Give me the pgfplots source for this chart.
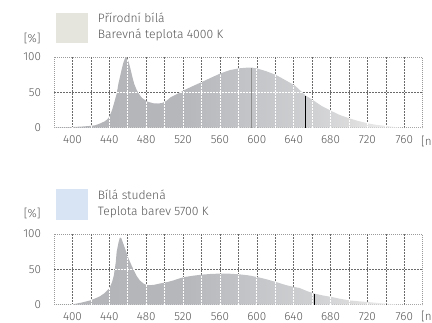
\documentclass[border=0pt]{standalone}
\usepackage{fontspec}
\setmainfont{Fira Sans Light}
\usepackage{pgfplots}
\pgfplotsset{compat=1.18}
\definecolor{s0}{HTML}{B3B4B8}
\definecolor{s1}{HTML}{B6B7BB}
\definecolor{s2}{HTML}{C4C6C9}
\definecolor{s3}{HTML}{CFD0D2}
\definecolor{s4}{HTML}{DBDBDC}
\definecolor{s5}{HTML}{ECECEC}
\definecolor{gridc}{HTML}{6A6A6A}
\definecolor{framec}{HTML}{9A9A9A}
\definecolor{labc}{HTML}{555555}
\definecolor{swA}{HTML}{E5E5DD}
\definecolor{swB}{HTML}{D8E4F4}
\pgfdeclarehorizontalshading{specshade}{100bp}{color(0bp)=(s0); color(25bp)=(s0); color(42.5bp)=(s1); color(52.5bp)=(s2); color(60bp)=(s3); color(65bp)=(s4); color(70bp)=(s5); color(75bp)=(white); color(100bp)=(white)}

\pgfplotstableread{
nm v
380 0.3
390 0.5
400 1
410 1.6
420 2.6
425 3.5
430 6
435 9
438 12
440 15.5
443 25
445 34
448 48
450 63
453 80
455 91
457 98
458 100
459 99
461 93
463 83
465 72
467 62
469.5 54
472 48
475.6 42
481 37
488 34.5
493 34.2
497.5 35
502 38
506.5 43
515 48.6
521 53
530 58.5
541 65
550 70.5
561 77
571 81.5
581 84
590 85
595 85
601 83.5
610 80
621 74.5
630 68
641 60
646 54
653 45.5
661 39
670 31
681 23.6
690 18
701 13
710 9.5
721 6
730 4
741 2.4
750 1
757 0.3
765 0
780 0
}\specA

\pgfplotstableread{
nm v
380 0
395 0
400 0.5
410 3
419 6
425 9
430 12
435 16.5
440 23
443 32
445 42
447 60
448 75
450 88
451.5 95
453 94
455 87
458 76
461 65
464 56
466.5 49
470 40
473 34.5
477 30
481 27.5
488 28
495 30
503 32
510 34.5
515.6 37
521 39
531 41
541 42.6
551 43.6
561 44
571 43.8
581 43
591 41.5
601 39
611 35.8
621 32
631 28
637 26
646.5 23.6
655 19
663 15.6
672 13
681 11
690 8.5
701 6
711 4.8
721 3.7
731 2.5
741 1.4
751 0.6
761 0
780 0
}\specB

% grid line positions (x at every 20 nm, full height)
\pgfplotstableread{
x y
400 100
420 100
440 100
460 100
480 100
500 100
520 100
540 100
560 100
580 100
600 100
620 100
640 100
660 100
680 100
700 100
720 100
740 100
760 100
}\gridv

% curve heights at the grid positions (white grid inside the area)
\pgfplotstableread{
x a b
400 1 0.5
420 2.6 6.5
440 15.5 23
460 96 69
480 38 28
500 36.5 31.2
520 52.3 38.6
540 64.4 42.4
560 76.4 44
580 83.8 43.1
600 83.8 39.2
620 75 32.4
640 60.7 25.2
660 39.8 17.2
680 24.3 11.2
700 13.5 6.2
720 6.3 3.8
740 2.5 1.5
760 0.1 0.1
}\gridin

\pgfplotsset{
  dgrid/.style={draw=gridc, line width=0.5bp, dash pattern=on 2bp off 1bp, mark=none},
  wgrid/.style={draw=white, line width=0.7bp, dash pattern=on 2bp off 1bp, mark=none},
  specbase/.style={
    scale only axis, width=368.7bp, height=70.7bp,
    xmin=380, xmax=780, ymin=0, ymax=100, clip=false,
  },
  specaxis/.style={
    specbase,
    xtick={400,440,...,760},
    ytick={0,50,100},
    major tick length=0pt, minor tick length=0pt,
    axis line style={framec, line width=0.5bp, dash pattern=on 1bp off 1bp},
    tick label style={font=\fontsize{11.7}{13}\selectfont, text=labc},
    /pgf/number format/assume math mode=true,
    /pgf/number format/1000 sep={},
    xticklabel style={anchor=base, yshift=-16bp},
    yticklabel style={anchor=east, xshift=-9.5bp},
  },
  overlay axis/.style={specbase, hide axis},
}

\begin{document}
\begin{tikzpicture}
\useasboundingbox (0,0) rectangle (432bp,-323bp);

% ---------- top chart ----------
\fill[swA] (56bp,-13.3bp) rectangle (87.7bp,-43.3bp);
\node[anchor=base west, inner sep=0, text=labc, font=\fontsize{12.2}{14}\selectfont] at (97.7bp,-22.3bp) {Přírodní bílá};
\node[anchor=base west, inner sep=0, text=labc, font=\fontsize{12.2}{14}\selectfont] at (97.7bp,-38.3bp) {Barevná teplota 4000 K};
\node[inner sep=0, text=labc, font=\fontsize{11.7}{13}\selectfont] at (32.3bp,-38bp) {[\%]};
\node[anchor=west, inner sep=0, text=labc, font=\fontsize{11.7}{13}\selectfont] at (421bp,-141bp) {[nm]};

\begin{axis}[specaxis, at={(54bp,-57bp)}, anchor=north west]
\addplot[dgrid, ycomb] table[x=x, y=y] {\gridv};
\addplot[dgrid] coordinates {(380,50) (780,50)};
\addplot[draw=none, shading=specshade] table[x=nm, y=v] {\specA} \closedcycle;
\end{axis}
\begin{axis}[overlay axis, at={(54bp,-57bp)}, anchor=north west]
\addplot[wgrid, ycomb] table[x=x, y=a] {\gridin};
\addplot[wgrid] coordinates {(448.3,50) (471.2,50)};
\addplot[wgrid] coordinates {(517,50) (649.3,50)};
\addplot[draw=black!45, line width=0.7bp] coordinates {(594.5,0) (594.5,85)};
\addplot[draw=black, line width=0.8bp] coordinates {(653,0) (653,45.5)};
\end{axis}

% ---------- bottom chart ----------
\fill[swB] (56bp,-189bp) rectangle (88bp,-220bp);
\node[anchor=base west, inner sep=0, text=labc, font=\fontsize{12.2}{14}\selectfont] at (97.7bp,-199bp) {Bílá studená};
\node[anchor=base west, inner sep=0, text=labc, font=\fontsize{12.2}{14}\selectfont] at (97.7bp,-215bp) {Teplota barev 5700 K};
\node[inner sep=0, text=labc, font=\fontsize{11.7}{13}\selectfont] at (32.3bp,-213bp) {[\%]};
\node[anchor=west, inner sep=0, text=labc, font=\fontsize{11.7}{13}\selectfont] at (421bp,-316bp) {[nm]};

\begin{axis}[specaxis, at={(54bp,-234bp)}, anchor=north west]
\addplot[dgrid, ycomb] table[x=x, y=y] {\gridv};
\addplot[dgrid] coordinates {(380,50) (780,50)};
\addplot[draw=none, shading=specshade] table[x=nm, y=v] {\specB} \closedcycle;
\end{axis}
\begin{axis}[overlay axis, at={(54bp,-234bp)}, anchor=north west]
\addplot[wgrid, ycomb] table[x=x, y=b] {\gridin};
\addplot[wgrid] coordinates {(445.9,50) (466.1,50)};
\addplot[draw=black, line width=0.8bp] coordinates {(663,0) (663,15.6)};
\addplot[draw=black!70, line width=0.6bp] coordinates {(741,0) (741,1.4)};
\end{axis}
\end{tikzpicture}
\end{document}
